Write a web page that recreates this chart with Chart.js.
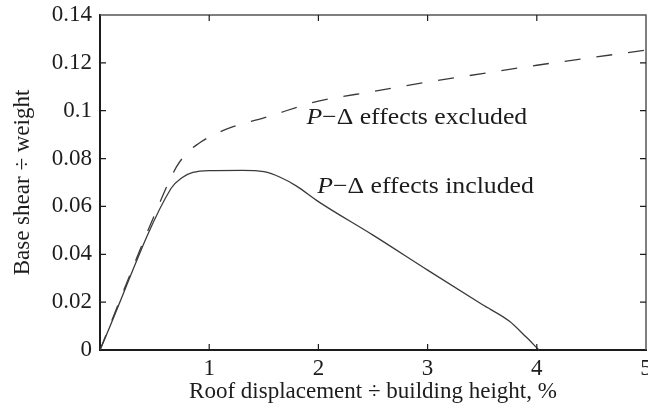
<!DOCTYPE html>
<html>
<head>
<meta charset="utf-8">
<script src="https://cdn.jsdelivr.net/npm/chart.js@4"></script>
<style>
  html, body { margin: 0; padding: 0; background: #fff; }
  #wrap { width: 648px; height: 419px; }
</style>
</head>
<body>
<div id="wrap"><canvas id="pushover"></canvas></div>
<script>
// Pushover curves
const excludedX = [0, 0.5, 0.7, 0.8, 0.9, 1.0, 1.2, 1.5, 2.0, 2.5, 3.0, 3.5, 4.0, 4.5, 5.0];
const excludedY = [0, 0.0565, 0.0765, 0.0825, 0.0862, 0.089, 0.093, 0.097, 0.104, 0.108, 0.112, 0.1155, 0.119, 0.1222, 0.1253];

const includedX = [0, 0.65, 0.75, 0.85, 1.0, 1.3, 1.5, 1.65, 1.8, 2.0, 2.5, 3.0, 3.5, 3.75, 3.9, 4.02];
const includedY = [0, 0.0675, 0.072, 0.0742, 0.075, 0.0751, 0.0745, 0.0722, 0.0685, 0.062, 0.048, 0.0334, 0.019, 0.012, 0.0055, 0];

const xTickLabels = ['', '1', '2', '3', '4', '5'];
const yTickLabels = ['0', '0.02', '0.04', '0.06', '0.08', '0.1', '0.12', '0.14'];

const FONT = 'Liberation Serif';
const INK = '#1c1c1c';

const toPoints = (xs, ys) => xs.map((x, i) => ({ x: x, y: ys[i] }));

// inward ticks on all four sides + top/right frame, matlab style
const frameTicks = {
  id: 'frameTicks',
  afterDraw(chart) {
    const { ctx, chartArea: a, scales: { x, y } } = chart;
    ctx.save();
    ctx.strokeStyle = '#555';
    ctx.lineWidth = 1.5;
    ctx.beginPath();
    ctx.moveTo(a.left, a.top); ctx.lineTo(a.right, a.top); ctx.lineTo(a.right, a.bottom);
    ctx.stroke();

    ctx.strokeStyle = INK;
    ctx.lineWidth = 1.2;
    ctx.beginPath();
    x.ticks.forEach(t => {
      const px = x.getPixelForValue(t.value);
      if (px <= a.left + 1 || px >= a.right - 1) return;
      ctx.moveTo(px, a.bottom); ctx.lineTo(px, a.bottom - 6);
      ctx.moveTo(px, a.top); ctx.lineTo(px, a.top + 6);
    });
    y.ticks.forEach(t => {
      const py = y.getPixelForValue(t.value);
      if (py >= a.bottom - 1 || py <= a.top + 1) return;
      ctx.moveTo(a.left, py); ctx.lineTo(a.left + 6, py);
      ctx.moveTo(a.right, py); ctx.lineTo(a.right - 6, py);
    });
    ctx.stroke();
    ctx.restore();
  }
};

// curve labels, "P" in italics (the source figure is a bit wide, so stretch)
const curveLabels = {
  id: 'curveLabels',
  afterDatasetsDraw(chart) {
    const { ctx, scales: { x, y } } = chart;
    const put = (text, vx, vy) => {
      const px = x.getPixelForValue(vx), py = y.getPixelForValue(vy);
      ctx.save();
      ctx.translate(px, py);
      ctx.scale(1.12, 1);
      ctx.fillStyle = INK;
      ctx.textBaseline = 'middle';
      ctx.font = 'italic 23px "' + FONT + '"';
      ctx.fillText('P', 0, 0);
      const w = ctx.measureText('P').width;
      ctx.font = '23px "' + FONT + '"';
      ctx.fillText(text, w, 0);
      ctx.restore();
    };
    put('\u2212\u0394 effects excluded', 1.89, 0.0968);
    put('\u2212\u0394 effects included', 1.99, 0.0682);
  }
};

new Chart(document.getElementById('pushover'), {
  type: 'line',
  data: {
    datasets: [
      {
        label: 'P-Delta effects excluded',
        data: toPoints(excludedX, excludedY),
        borderColor: '#3a3a3a',
        borderWidth: 1.3,
        borderDash: [16, 16],
        pointRadius: 0,
        cubicInterpolationMode: 'monotone',
        fill: false
      },
      {
        label: 'P-Delta effects included',
        data: toPoints(includedX, includedY),
        borderColor: '#3a3a3a',
        borderWidth: 1.3,
        pointRadius: 0,
        cubicInterpolationMode: 'monotone',
        fill: false
      }
    ]
  },
  options: {
    responsive: true,
    maintainAspectRatio: false,
    animation: false,
    layout: { padding: { top: 15, right: 2, left: 0, bottom: 0 } },
    plugins: { legend: { display: false }, tooltip: { enabled: false } },
    scales: {
      x: {
        type: 'linear',
        min: 0, max: 5,
        grid: { display: false, drawTicks: false },
        border: { display: true, color: INK, width: 2 },
        ticks: {
          stepSize: 1, padding: 5, color: INK, maxRotation: 0,
          font: { family: FONT, size: 23 },
          callback: (v) => xTickLabels[Math.round(v)]
        },
        title: {
          display: true, text: 'Roof displacement \u00f7 building height, %',
          color: INK, font: { family: FONT, size: 23 }, padding: { top: 0, bottom: 13 }
        },
        afterFit(s) { s.height = 69; s.paddingLeft = 0; s.paddingRight = 0; }
      },
      y: {
        min: 0, max: 0.14,
        grid: { display: false, drawTicks: false },
        border: { display: true, color: INK, width: 2 },
        ticks: {
          stepSize: 0.02, padding: 8, color: INK,
          font: { family: FONT, size: 23 },
          callback: (v) => yTickLabels[Math.round(v / 0.02)]
        },
        title: {
          display: true, text: 'Base shear \u00f7 weight',
          color: INK, font: { family: FONT, size: 23 }, padding: { top: 9, bottom: 0 }
        },
        afterFit(s) { s.width = 100; s.paddingTop = 0; s.paddingBottom = 0; }
      }
    }
  },
  plugins: [frameTicks, curveLabels]
});
</script>
</body>
</html>
